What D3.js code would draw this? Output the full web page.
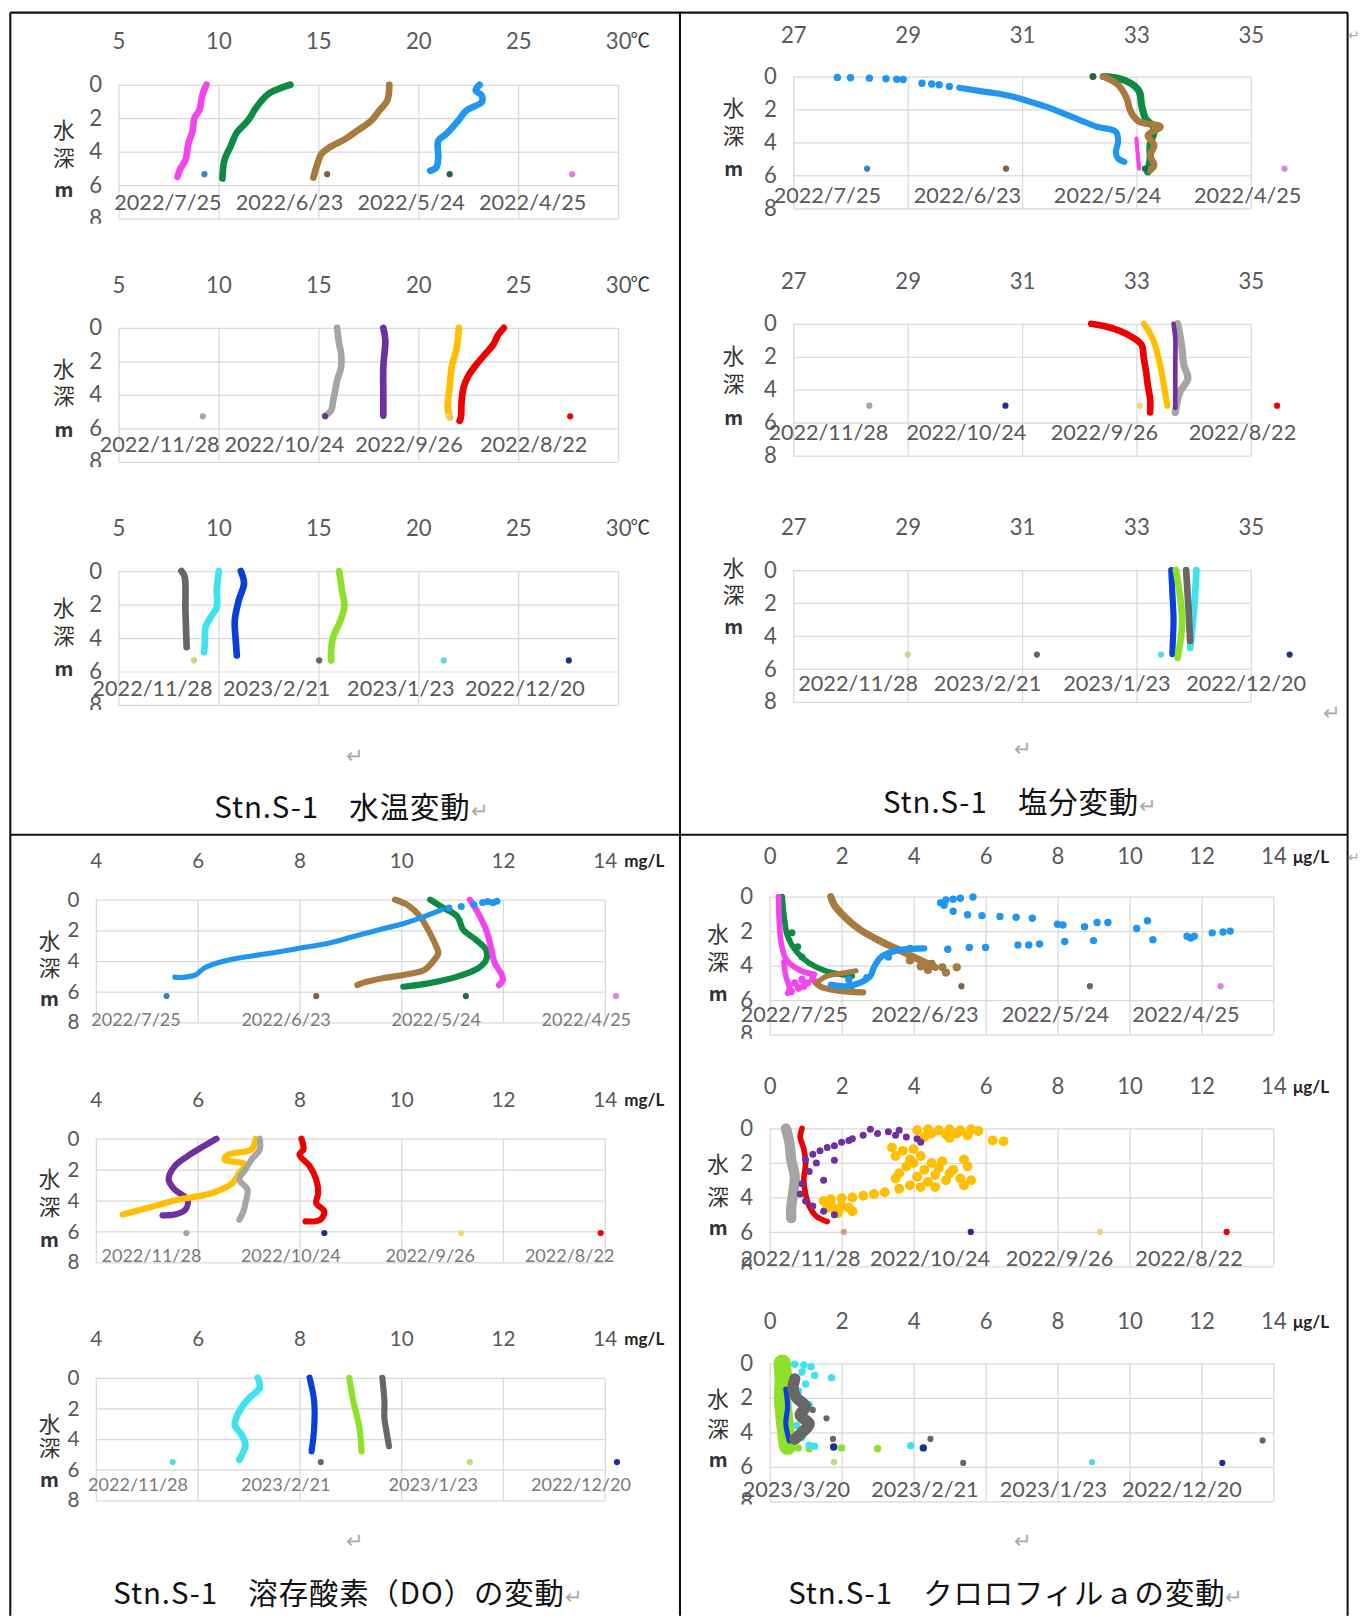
<!DOCTYPE html>
<html>
<head>
<meta charset="utf-8">
<script src="https://cdn.jsdelivr.net/npm/d3@7"></script>
<style>
  body { margin: 0; background: #fff; }
  svg { display: block; }
</style>
</head>
<body>
<svg id="fig"></svg>
<script>
// ---- ticks / labels ----
const depthTicks = [0, 2, 4, 6, 8];
const tempTicks = [5, 10, 15, 20, 25, 30];
const salTicks = [27, 29, 31, 33, 35];
const doTicks = [4, 6, 8, 10, 12, 14];
const chlTicks = [0, 2, 4, 6, 8, 10, 12, 14];

const datesSpring = ["2022/7/25", "2022/6/23", "2022/5/24", "2022/4/25"];
const datesAutumn = ["2022/11/28", "2022/10/24", "2022/9/26", "2022/8/22"];
const datesWinter = ["2022/11/28", "2023/2/21", "2023/1/23", "2022/12/20"];
const datesWinterChl = ["2023/3/20", "2023/2/21", "2023/1/23", "2022/12/20"];

// ---- water temperature [°C, depth m] ----
const wt1Pink = [[9.4,0],[9.2,0.6],[9.05,1.5],[8.8,2.0],[8.7,2.8],[8.5,3.5],[8.35,4.5],[8.1,5.0],[7.95,5.5]];
const wt1Green = [[13.6,0],[12.9,0.3],[12.5,0.55],[11.9,1.34],[11.5,2.1],[10.9,2.9],[10.6,3.7],[10.3,4.5],[10.2,5.6]];
const wt1Brown = [[18.55,0],[18.45,0.94],[18.05,1.54],[17.65,2.14],[16.95,2.74],[16.35,3.24],[15.55,3.74],[15.15,4.14],[14.95,4.74],[14.75,5.54]];
const wt1Blue = [[23.07,0],[22.87,0.34],[23.17,0.64],[23.17,1.04],[22.4,1.54],[22.0,2.14],[21.4,2.94],[21.0,3.34],[21.0,4.34],[20.9,4.94],[20.6,5.14]];
const wt1Marks = [[9.3,5.34],[15.44,5.34],[21.57,5.34],[27.7,5.34]];

const wt2Gray = [[15.94,0],[16.04,0.94],[16.14,1.54],[16.14,2.34],[15.94,3.14],[15.84,3.74],[15.74,4.34],[15.64,4.94],[15.34,5.24]];
const wt2Purple = [[18.25,0],[18.35,0.74],[18.25,2.34],[18.25,3.94],[18.25,5.24]];
const wt2Gold = [[22.03,0],[21.93,1.14],[21.67,2.34],[21.57,3.54],[21.47,4.74],[21.57,5.34]];
const wt2Red = [[24.28,0],[23.98,0.44],[23.78,0.94],[23.37,1.54],[22.87,2.24],[22.47,2.94],[22.27,3.54],[22.17,4.34],[22.13,5.34],[22.07,5.54]];
const wt2Marks = [[9.22,5.28],[15.34,5.28],[21.5,5.28],[27.6,5.28]];

const wt3DarkGray = [[8.15,0],[8.31,0.34],[8.35,2.34],[8.41,4.54]];
const wt3Cyan = [[10.02,0],[9.92,1.14],[9.92,2.14],[9.62,2.74],[9.36,3.34],[9.32,4.34],[9.28,4.84]];
const wt3Blue = [[11.12,0],[11.28,0.74],[11.02,1.74],[10.82,2.94],[10.88,4.34],[10.92,5.04]];
const wt3Lime = [[16.04,0],[16.18,1.14],[16.3,2.14],[16.04,3.14],[15.74,3.94],[15.64,4.74],[15.64,5.34]];
const wt3Marks = [[8.78,5.34],[15.04,5.34],[21.27,5.34],[27.53,5.34]];

// ---- salinity ----
const sal1BlueSparse = [[27.77,0.06],[28.0,0.08],[28.33,0.1],[28.62,0.14],[28.81,0.17],[28.92,0.18],[29.25,0.41],[29.42,0.45],[29.55,0.5],[29.73,0.6]];
const sal1Blue = [[29.9,0.68],[30.24,0.87],[30.54,1.02],[30.83,1.22],[31.13,1.52],[31.42,1.83],[31.72,2.24],[32.01,2.64],[32.31,3.05],[32.64,3.35],[32.68,3.96],[32.64,4.57],[32.68,4.98],[32.79,5.18]];
const sal1Green = [[32.42,0],[32.68,0.1],[32.9,0.41],[33.05,0.91],[33.09,1.73],[33.16,2.54],[33.31,3.15],[33.24,4.17],[33.24,4.98],[33.2,5.79]];
const sal1GreenDot = [[32.24,0]];
const sal1Brown = [[32.42,0],[32.68,0.51],[32.83,1.32],[32.9,2.13],[33.05,2.74],[33.42,3.05],[33.2,3.56],[33.31,4.17],[33.24,4.78],[33.31,5.39],[33.24,5.69]];
const sal1Pink = [[33.0,3.76],[33.02,4.6],[33.05,5.59]];
const sal1Marks = [[28.29,5.59],[30.72,5.59],[33.15,5.59],[35.59,5.59]];

const sal2Red = [[32.21,0],[32.43,0.14],[32.72,0.45],[32.95,0.86],[33.09,1.27],[33.13,2.1],[33.17,2.92],[33.2,3.74],[33.24,4.56],[33.24,5.38]];
const sal2Gold = [[33.13,0],[33.28,0.86],[33.39,2.1],[33.46,3.33],[33.54,4.97]];
const sal2Gray = [[33.72,0],[33.79,1.27],[33.83,2.5],[33.9,3.33],[33.76,4.15],[33.68,5.38]];
const sal2Purple = [[33.65,0],[33.68,0.86],[33.68,2.5],[33.68,4.15],[33.68,5.1]];
const sal2Marks = [[28.33,4.97],[30.71,4.97],[33.06,4.97],[35.46,4.97]];

const sal3Cyan = [[34.05,0],[34.01,2.3],[33.94,4.73]];
const sal3DarkGray = [[33.87,0],[33.91,2.3],[33.94,4.3]];
const sal3Blue = [[33.61,0],[33.63,1.5],[33.65,3.0],[33.63,4.93],[33.63,5.1]];
const sal3Lime = [[33.69,0],[33.76,1.5],[33.8,3.3],[33.72,5.33]];
const sal3Marks = [[29.0,5.13],[31.26,5.13],[33.43,5.13],[35.68,5.13]];

// ---- dissolved oxygen [mg/L] ----
const do1BlueSparse = [[11.88,0.1],[11.7,0.12],[11.8,0.2],[11.6,0.18],[11.43,0.33],[11.18,0.44],[10.94,0.55]];
const do1Blue = [[10.8,0.65],[10.37,1.2],[9.96,1.64],[9.55,1.97],[9.06,2.4],[8.57,2.84],[8.0,3.17],[7.43,3.49],[6.78,3.82],[6.37,4.15],[6.12,4.48],[5.96,4.91],[5.71,5.07],[5.55,5.05]];
const do1Brown = [[9.88,0],[10.12,0.33],[10.37,1.09],[10.53,1.97],[10.69,3.06],[10.73,3.49],[10.65,3.93],[10.45,4.59],[10.04,4.91],[9.63,5.13],[9.22,5.46],[9.14,5.57]];
const do1Green = [[10.57,0],[10.78,0.44],[11.1,1.09],[11.22,1.97],[11.47,2.62],[11.67,3.28],[11.67,3.93],[11.51,4.48],[11.1,5.02],[10.53,5.46],[10.04,5.68]];
const do1Pink = [[11.35,0],[11.51,0.87],[11.67,1.97],[11.76,3.06],[11.84,4.15],[11.96,4.8],[12.0,5.24],[11.92,5.57]];
const do1Marks = [[5.39,6.29],[8.33,6.29],[11.27,6.29],[14.22,6.29]];

const do2Purple = [[6.37,0],[6.12,0.48],[5.8,1.13],[5.55,1.77],[5.43,2.64],[5.55,3.29],[5.8,3.94],[5.76,4.59],[5.55,4.91],[5.31,4.96]];
const do2Gold = [[7.14,0],[7.06,0.69],[6.61,1.02],[6.53,1.34],[6.94,1.67],[6.82,2.21],[6.69,2.86],[6.29,3.51],[5.63,3.94],[5.14,4.37],[4.53,4.91]];
const do2Gray = [[7.22,0],[7.22,0.69],[7.06,1.34],[6.94,1.99],[6.82,2.64],[6.98,3.29],[6.94,4.16],[6.9,4.7],[6.82,5.24]];
const do2Red = [[8.04,0],[8.08,0.69],[8.0,1.02],[8.2,1.77],[8.33,2.64],[8.37,3.51],[8.33,4.16],[8.49,4.7],[8.41,5.24],[8.12,5.35]];
const do2Marks = [[5.78,6.1],[8.49,6.1],[11.18,6.1],[13.92,6.1]];

const do3Cyan = [[7.18,0],[7.22,0.65],[7.02,1.31],[6.86,1.96],[6.73,3.06],[6.86,3.71],[6.94,4.37],[6.82,5.35]];
const do3Blue = [[8.2,0],[8.29,1.53],[8.29,3.27],[8.24,4.8]];
const do3Lime = [[8.98,0],[9.06,1.53],[9.18,3.27],[9.22,4.8]];
const do3DarkGray = [[9.63,0],[9.67,1.53],[9.67,2.62],[9.71,3.49],[9.76,4.47]];
const do3Marks = [[5.51,5.5],[8.42,5.5],[11.35,5.5],[14.24,5.5]];

// ---- chlorophyll a [µg/L] ----
const chl1Green = [[0.35,0],[0.4,1.1],[0.5,2.3],[0.75,3.2],[1.1,3.85],[1.55,4.3],[1.95,4.5],[2.3,4.6]];
const chl1GreenDots = [[0.62,2.1],[0.78,2.9],[1.95,5.35],[2.3,5.5],[0.9,3.5]];
const chl1BrownA = [[1.7,0],[1.8,0.5],[2.1,1.2],[2.5,1.9],[3.0,2.5],[3.5,3.0],[4.1,3.6],[4.6,4.1]];
const chl1BrownB = [[1.2,4.8],[1.4,5.2],[1.9,5.45],[2.6,5.55]];
const chl1BrownC = [[1.3,5.0],[1.6,4.6],[2.0,4.45],[2.4,4.3]];
const chl1BrownDots = [[4.4,4.25],[4.8,4.1],[5.2,4.1],[4.9,4.4],[4.2,4.05],[3.9,3.7],[4.5,3.9]];
const chl1BlueLine = [[4.3,3.0],[3.6,3.1],[3.1,3.5],[2.9,4.1],[2.8,4.6],[2.5,5.0],[2.1,5.2],[1.7,5.1]];
const chl1BlueDots = [[4.75,0.35],[4.9,0.2],[5.1,0.15],[5.3,0.1],[5.65,0.02],[4.85,0.5],[5.1,0.85],[5.5,1.05],[5.9,1.1],[6.4,1.15],[6.85,1.2],[7.3,1.25],[8.0,1.6],[8.15,1.65],[8.75,1.75],[9.1,1.5],[9.4,1.5],[10.2,1.85],[10.5,1.4],[10.65,2.5],[11.6,2.3],[11.7,2.4],[11.8,2.3],[12.3,2.1],[12.6,2.05],[12.8,2.0],[4.95,3.05],[5.55,2.95],[6.0,2.95],[6.9,2.8],[7.2,2.8],[7.5,2.75],[8.2,2.6],[9.0,2.55],[3.3,3.5],[3.9,3.0],[2.2,4.8],[2.7,4.7]];
const chl1PinkA = [[0.25,0],[0.27,1.5],[0.33,2.8],[0.45,3.6],[0.7,4.1],[1.0,4.4],[1.25,4.5]];
const chl1PinkB = [[0.4,3.8],[0.45,4.6],[0.55,5.3],[0.5,5.6]];
const chl1PinkDots = [[0.7,5.0],[0.9,4.8],[1.05,5.0],[0.8,5.3],[0.6,5.5],[1.2,4.75],[0.95,5.2]];
const chl1Marks = [[5.33,5.19],[8.9,5.19],[12.53,5.19]];

const chl2Gray = [[0.45,0],[0.55,0.8],[0.6,1.8],[0.7,2.8],[0.65,3.8],[0.6,4.6],[0.6,5.2]];
const chl2Red = [[0.9,0],[0.85,0.5],[0.95,1.2],[1.0,2.0],[0.95,3.0],[1.0,3.8],[1.1,4.5],[1.3,5.1],[1.6,5.4]];
const chl2PurpleDots = [[2.8,0.05],[3.0,0.3],[3.3,0.2],[3.5,0.4],[3.8,0.5],[4.1,0.6],[2.6,0.4],[2.3,0.6],[2.0,0.8],[1.8,1.0],[1.6,1.1],[1.4,1.3],[1.2,1.5],[1.0,1.8],[1.8,1.85],[1.5,3.0],[1.1,2.5],[0.9,3.2],[0.85,3.8],[1.0,4.2],[1.2,4.5],[1.5,4.8],[1.8,5.0],[4.2,0.8],[1.3,2.0],[3.6,0.1],[2.2,0.7]];
const chl2GoldDots = [[4.1,0.1],[4.4,0.05],[4.7,0.1],[5.0,0.05],[5.3,0.1],[5.6,0.05],[5.8,0.15],[4.5,0.3],[4.9,0.35],[5.2,0.3],[5.5,0.4],[5.0,0.55],[4.3,0.5],[6.2,0.7],[6.5,0.75],[3.4,1.1],[3.7,1.3],[4.0,1.2],[3.5,1.6],[3.9,1.8],[4.2,1.6],[4.5,2.0],[3.8,2.2],[4.3,2.4],[4.7,2.3],[4.1,2.8],[4.6,2.7],[5.0,2.6],[4.4,3.1],[4.9,3.0],[5.3,2.9],[3.9,3.3],[4.6,3.4],[5.4,3.3],[5.5,2.2],[5.4,1.8],[5.6,3.0],[3.6,3.5],[3.2,3.7],[2.9,3.8],[2.6,3.9],[2.3,4.0],[2.0,4.05],[1.7,4.1],[1.5,4.2],[1.7,4.4],[2.0,4.5],[1.8,4.7],[2.2,4.6],[1.9,4.9],[2.3,4.8],[1.6,4.6],[3.6,2.6],[4.0,2.0],[4.8,1.9],[5.1,2.4],[3.5,2.9],[4.2,3.4]];
const chl2Marks = [[2.06,6.0],[5.59,6.0],[9.18,6.0],[12.7,6.0]];

const chl3Lime = [[0.35,0],[0.38,1],[0.36,2],[0.4,3],[0.45,4],[0.5,4.8]];
const chl3LimeDots = [[0.8,4.9],[1.1,4.95],[2.0,4.9],[3.0,4.95]];
const chl3CyanDots = [[0.7,0.05],[0.95,0.1],[1.15,0.2],[1.25,0.7],[1.72,0.83],[0.9,0.5],[1.0,1.2],[0.8,1.6],[1.1,2.4],[0.75,3.6],[0.9,4.3],[1.1,4.75],[1.25,4.8],[3.92,4.77]];
const chl3DarkGray = [[0.7,0.9],[0.65,1.5],[0.75,2.0],[1.0,2.5],[0.85,3.0],[1.1,3.5],[0.9,4.0],[0.7,4.4]];
const chl3DarkGrayDots = [[1.58,3.19],[1.76,4.38],[4.47,4.38],[13.7,4.47],[1.2,2.7],[1.05,3.8]];
const chl3Blue = [[0.45,1.5],[0.5,2.5],[0.45,3.5],[0.55,4.5]];
const chl3BlueDots = [[1.78,4.85],[4.27,4.9]];
const chl3Marks = [[1.79,5.73],[5.38,5.77],[8.96,5.73],[12.58,5.77]];

// ---- styles ----
const COL = {
    pink: "#f245ee", green: "#0e8a43", brown: "#a87a40", blue: "#2196f0",
    gray: "#a5a5a5", purple: "#7030a0", gold: "#ffbf00", red: "#ee0000",
    dgray: "#676767", cyan: "#3ee3ef", royal: "#0b3fd9", lime: "#8fe02a", navy: "#1f2f8f",
    mBlue: "#3585c8", mBrown: "#7d6143", mGreen: "#1b6b3c", mPink: "#e080e8",
    mGold: "#f2d27a", mCyan: "#63d3e0", mLime: "#b9e07a"
};
const GRID = "#d9d9d9";
const TICK = "#595959";
const FONT = "Lato, 'Open Sans', sans-serif";
const JP = "'Noto Sans CJK JP', sans-serif";

const svg = d3.select("#fig")
    .attr("width", 1361)
    .attr("height", 1616)
    .attr("viewBox", "0 0 1321 1568");
svg.append("rect").attr("width", 1321).attr("height", 1568).attr("fill", "#fff");

const L = (pts, color, w) => ({type: "line", pts, color, w});
const D = (pts, color, r) => ({type: "dot", pts, color, r});

const charts = [
    // water temperature
    {xDomain: [5, 30], xTicks: tempTicks, xl: 115, xr: 600, y0: 82, y8: 212, xPad: 35, unit: "℃", clip: 217,
     title: {x: 62, y: [124, 152, 183]}, legend: {labels: datesSpring, x0: 163, step: 118, y: 204},
     series: [L(wt1Pink, COL.pink, 6.5), L(wt1Green, COL.green, 6.5), L(wt1Brown, COL.brown, 6.5), L(wt1Blue, COL.blue, 6.5)],
     marks: {pts: wt1Marks, colors: [COL.mBlue, COL.mBrown, COL.mGreen, COL.mPink]}},
    {xDomain: [5, 30], xTicks: tempTicks, xl: 115, xr: 600, y0: 318, y8: 448, xPad: 34, unit: "℃", clip: 453,
     title: {x: 62, y: [356, 383, 416]}, legend: {labels: datesAutumn, x0: 155, step: 121, y: 438},
     series: [L(wt2Gray, COL.gray, 6.5), L(wt2Purple, COL.purple, 6.5), L(wt2Gold, COL.gold, 6.5), L(wt2Red, COL.red, 6.5)],
     marks: {pts: wt2Marks, colors: [COL.gray, COL.purple, COL.mGold, COL.red]}},
    {xDomain: [5, 30], xTicks: tempTicks, xl: 115, xr: 600, y0: 554, y8: 684, xPad: 34, unit: "℃", clip: 689,
     title: {x: 62, y: [588, 616, 648]}, legend: {labels: datesWinter, x0: 148, step: 120.5, y: 675},
     series: [L(wt3DarkGray, COL.dgray, 6.5), L(wt3Cyan, COL.cyan, 6.5), L(wt3Blue, COL.royal, 6.5), L(wt3Lime, COL.lime, 6.5)],
     marks: {pts: wt3Marks, colors: [COL.mLime, COL.dgray, COL.mCyan, COL.navy]}},
    // salinity
    {xDomain: [27, 35], xTicks: salTicks, xl: 770, xr: 1214, y0: 74, y8: 202, xPad: 33,
     title: {x: 712, y: [103, 130, 162]}, legend: {labels: datesSpring, x0: 803, step: 136, y: 197},
     series: [D(sal1BlueSparse, COL.blue, 3.6), L(sal1Blue, COL.blue, 6), L(sal1Green, COL.green, 7), D(sal1GreenDot, COL.mGreen, 3.4),
              L(sal1Brown, COL.brown, 6.5), L(sal1Pink, COL.pink, 4)],
     marks: {pts: sal1Marks, colors: [COL.mBlue, COL.mBrown, COL.mGreen, COL.mPink]}},
    {xDomain: [27, 35], xTicks: salTicks, xl: 770, xr: 1214, y0: 314, y8: 442, xPad: 34,
     title: {x: 712, y: [344, 371, 404]}, legend: {labels: datesAutumn, x0: 804, step: 134, y: 427},
     series: [L(sal2Red, COL.red, 6.5), L(sal2Gold, COL.gold, 6), L(sal2Gray, COL.gray, 7), L(sal2Purple, COL.purple, 4.5)],
     marks: {pts: sal2Marks, colors: [COL.gray, COL.navy, COL.mGold, COL.red]}},
    {xDomain: [27, 35], xTicks: salTicks, xl: 770, xr: 1214, y0: 553, y8: 681, xPad: 34,
     title: {x: 712, y: [550, 576, 607]}, legend: {labels: datesWinter, x0: 833, step: 125.5, y: 670},
     series: [L(sal3Cyan, COL.cyan, 6.5), L(sal3DarkGray, COL.dgray, 6.5), L(sal3Blue, COL.royal, 6), L(sal3Lime, COL.lime, 6.5)],
     marks: {pts: sal3Marks, colors: [COL.mLime, COL.dgray, COL.mCyan, COL.navy]}},
    // dissolved oxygen
    {xDomain: [4, 14], xTicks: doTicks, xl: 93, xr: 587, y0: 873, y8: 992, xPad: 31, unit: "mg/L", small: true,
     title: {x: 48, y: [912, 938, 968]}, legend: {labels: datesSpring, x0: 132, step: 145.7, y: 996},
     series: [L(do1Brown, COL.brown, 6), L(do1Green, COL.green, 6), L(do1Pink, COL.pink, 6), L(do1Blue, COL.blue, 5), D(do1BlueSparse, COL.blue, 3.4)],
     marks: {pts: do1Marks, colors: [COL.mBlue, COL.mBrown, COL.mGreen, COL.mPink]}},
    {xDomain: [4, 14], xTicks: doTicks, xl: 93, xr: 587, y0: 1105, y8: 1225, xPad: 31, unit: "mg/L", small: true,
     title: {x: 48, y: [1143, 1170, 1202]}, legend: {labels: datesAutumn, x0: 147, step: 135.3, y: 1225},
     series: [L(do2Purple, COL.purple, 6), L(do2Gold, COL.gold, 6), L(do2Gray, COL.gray, 6), L(do2Red, COL.red, 6)],
     marks: {pts: do2Marks, colors: [COL.gray, COL.navy, COL.mGold, COL.red]}},
    {xDomain: [4, 14], xTicks: doTicks, xl: 93, xr: 587, y0: 1337, y8: 1456, xPad: 31, unit: "mg/L", small: true,
     title: {x: 48, y: [1380, 1404, 1435]}, legend: {labels: datesWinter, x0: 134, step: 143.3, y: 1447},
     series: [L(do3Cyan, COL.cyan, 6.5), L(do3Blue, COL.royal, 6), L(do3Lime, COL.lime, 6), L(do3DarkGray, COL.dgray, 6)],
     marks: {pts: do3Marks, colors: [COL.mCyan, COL.dgray, COL.mLime, COL.navy]}},
    // chlorophyll a
    {xDomain: [0, 14], xTicks: chlTicks, xl: 747, xr: 1236, y0: 870, y8: 1004, xPad: 32, unit: "μg/L", clip: 1008,
     title: {x: 697, y: [905, 932, 963]}, legend: {labels: datesSpring, x0: 771, step: 126.7, y: 992},
     series: [L(chl1Green, COL.green, 5.5), D(chl1GreenDots, COL.green, 3.4),
              L(chl1BrownA, COL.brown, 7), L(chl1BrownB, COL.brown, 6), L(chl1BrownC, COL.brown, 5), D(chl1BrownDots, COL.brown, 4),
              L(chl1BlueLine, COL.blue, 6), D(chl1BlueDots, COL.blue, 3.6),
              L(chl1PinkA, COL.pink, 5.5), L(chl1PinkB, COL.pink, 5.5), D(chl1PinkDots, COL.pink, 3.6)],
     marks: {pts: chl1Marks, colors: [COL.mBrown, COL.dgray, COL.mPink]}},
    {xDomain: [0, 14], xTicks: chlTicks, xl: 747, xr: 1236, y0: 1095, y8: 1229, xPad: 33, unit: "μg/L", clip: 1232,
     title: {x: 697, y: [1128, 1160, 1190]}, legend: {labels: datesAutumn, x0: 777, step: 125.7, y: 1229},
     series: [D(chl2GoldDots, COL.gold, 4.8), L(chl2Gray, COL.gray, 10), L(chl2Red, COL.red, 5.5), D(chl2PurpleDots, COL.purple, 3.4)],
     marks: {pts: chl2Marks, colors: ["#d49a8a", COL.navy, COL.mGold, COL.red]}},
    {xDomain: [0, 14], xTicks: chlTicks, xl: 747, xr: 1236, y0: 1323, y8: 1457, xPad: 33, unit: "μg/L", clip: 1460,
     title: {x: 697, y: [1356, 1385, 1415]}, legend: {labels: datesWinterChl, x0: 773, step: 124.7, y: 1453},
     series: [L(chl3Lime, COL.lime, 17), D(chl3LimeDots, COL.lime, 3.6), D(chl3CyanDots, COL.cyan, 3.6),
              L(chl3Blue, COL.royal, 5), L(chl3DarkGray, COL.dgray, 11), D(chl3DarkGrayDots, COL.dgray, 3),
              D(chl3BlueDots, COL.navy, 3.6)],
     marks: {pts: chl3Marks, colors: [COL.mLime, COL.dgray, COL.mCyan, COL.navy]}}
];

function drawChart(c, i) {
    const g = svg.append("g").attr("class", "chart");
    if (c.clip) {
        svg.append("clipPath").attr("id", "clip" + i)
            .append("rect").attr("x", c.xl - 80).attr("y", c.y0 - 70)
            .attr("width", c.xr - c.xl + 200).attr("height", c.clip - c.y0 + 70);
        g.attr("clip-path", `url(#clip${i})`);
    }
    const x = d3.scaleLinear().domain(c.xDomain).range([c.xl, c.xr]);
    const y = d3.scaleLinear().domain([0, 8]).range([c.y0, c.y8]);
    const fs = c.small ? 20 : 21.5;

    const xAxis = g.append("g")
        .attr("transform", `translate(0, ${c.y0})`)
        .call(d3.axisTop(x).tickValues(c.xTicks).tickSize(-(c.y8 - c.y0)).tickPadding(c.xPad).tickFormat(d3.format("d")));
    const yAxis = g.append("g")
        .attr("transform", `translate(${c.xl}, 0)`)
        .call(d3.axisLeft(y).tickValues(depthTicks).tickSize(-(c.xr - c.xl)).tickPadding(16));
    [xAxis, yAxis].forEach(a => {
        a.select(".domain").remove();
        a.selectAll("line").attr("stroke", GRID).attr("stroke-width", 1.2);
        a.selectAll("text").attr("font-size", fs).attr("font-family", FONT).attr("fill", TICK);
    });

    // unit after the last tick label
    if (c.unit) {
        const last = c.xTicks[c.xTicks.length - 1];
        const isTemp = c.unit === "℃";
        g.append("text")
            .attr("x", x(last) + (isTemp ? 12 : 19))
            .attr("y", c.y0 - c.xPad - (isTemp ? 2 : 1))
            .attr("font-family", isTemp ? JP : FONT)
            .attr("font-weight", isTemp ? "normal" : "bold")
            .attr("font-size", isTemp ? 19 : 16.5)
            .attr("fill", isTemp ? "#333" : "#222")
            .text(c.unit);
    }

    const line = d3.line()
        .x(d => x(d[0]))
        .y(d => y(d[1]))
        .curve(d3.curveCatmullRom);

    c.series.forEach(s => {
        if (s.type === "line") {
            g.append("path")
                .attr("d", line(s.pts))
                .attr("fill", "none")
                .attr("stroke", s.color)
                .attr("stroke-width", s.w)
                .attr("stroke-linecap", "round")
                .attr("stroke-linejoin", "round");
        } else {
            g.append("g").selectAll("circle")
                .data(s.pts)
                .join("circle")
                .attr("cx", d => x(d[0]))
                .attr("cy", d => y(d[1]))
                .attr("r", s.r)
                .attr("fill", s.color);
        }
    });

    // legend markers (displaced in the original)
    g.append("g").selectAll("circle")
        .data(c.marks.pts)
        .join("circle")
        .attr("cx", d => x(d[0]))
        .attr("cy", d => y(d[1]))
        .attr("r", 3)
        .attr("fill", (d, k) => c.marks.colors[k]);

    // legend labels
    g.append("g").selectAll("text")
        .data(c.legend.labels)
        .join("text")
        .attr("x", (d, k) => c.legend.x0 + k * c.legend.step)
        .attr("y", c.legend.y)
        .attr("text-anchor", "middle")
        .attr("font-family", FONT)
        .attr("font-size", c.small ? 17.5 : 21)
        .attr("fill", c.small ? "#7a7a7a" : TICK)
        .text(d => d);

    // depth title 水 / 深 / m
    ["水", "深", "m"].forEach((t, k) => {
        svg.append("text")
            .attr("x", c.title.x)
            .attr("y", c.title.y[k])
            .attr("dominant-baseline", "central")
            .attr("text-anchor", "middle")
            .attr("font-family", JP)
            .attr("font-size", k < 2 ? 21 : 19)
            .attr("font-weight", k < 2 ? "normal" : "bold")
            .attr("fill", "#333")
            .text(t);
    });
}

charts.forEach(drawChart);

// frame of the document table
const frame = svg.append("g").attr("stroke", "#111").attr("stroke-width", 2);
[[10, 12, 1308, 12], [10, 12, 10, 1568], [660, 12, 660, 1568], [1308, 12, 1308, 1568], [10, 810, 1308, 810]]
    .forEach(l => frame.append("line").attr("x1", l[0]).attr("y1", l[1]).attr("x2", l[2]).attr("y2", l[3]));

// captions
const captions = [
    {text: "Stn.S-1　水温変動", x: 208, y: 794},
    {text: "Stn.S-1　塩分変動", x: 857, y: 789},
    {text: "Stn.S-1　溶存酸素（DO）の変動", x: 110, y: 1557},
    {text: "Stn.S-1　クロロフィルａの変動", x: 765, y: 1557}
];
captions.forEach(c => {
    const t = svg.append("text")
        .attr("x", c.x).attr("y", c.y)
        .attr("font-family", JP).attr("font-size", 28.5).attr("letter-spacing", 0.9).attr("fill", "#111");
    t.append("tspan").text(c.text);
    t.append("tspan").attr("fill", "#aaa").attr("font-size", 20).text("↵");
});

// paragraph marks
[[345, 740], [993, 734], [1293, 699], [345, 1502], [993, 1502], [1320, 39], [1320, 836]]
    .forEach(p => svg.append("text")
        .attr("x", p[0]).attr("y", p[1])
        .attr("text-anchor", p[0] > 1310 ? "end" : "middle")
        .attr("font-family", JP).attr("font-size", p[0] > 1310 ? 14 : 20).attr("fill", "#aaa")
        .text("↵"));
</script>
</body>
</html>
